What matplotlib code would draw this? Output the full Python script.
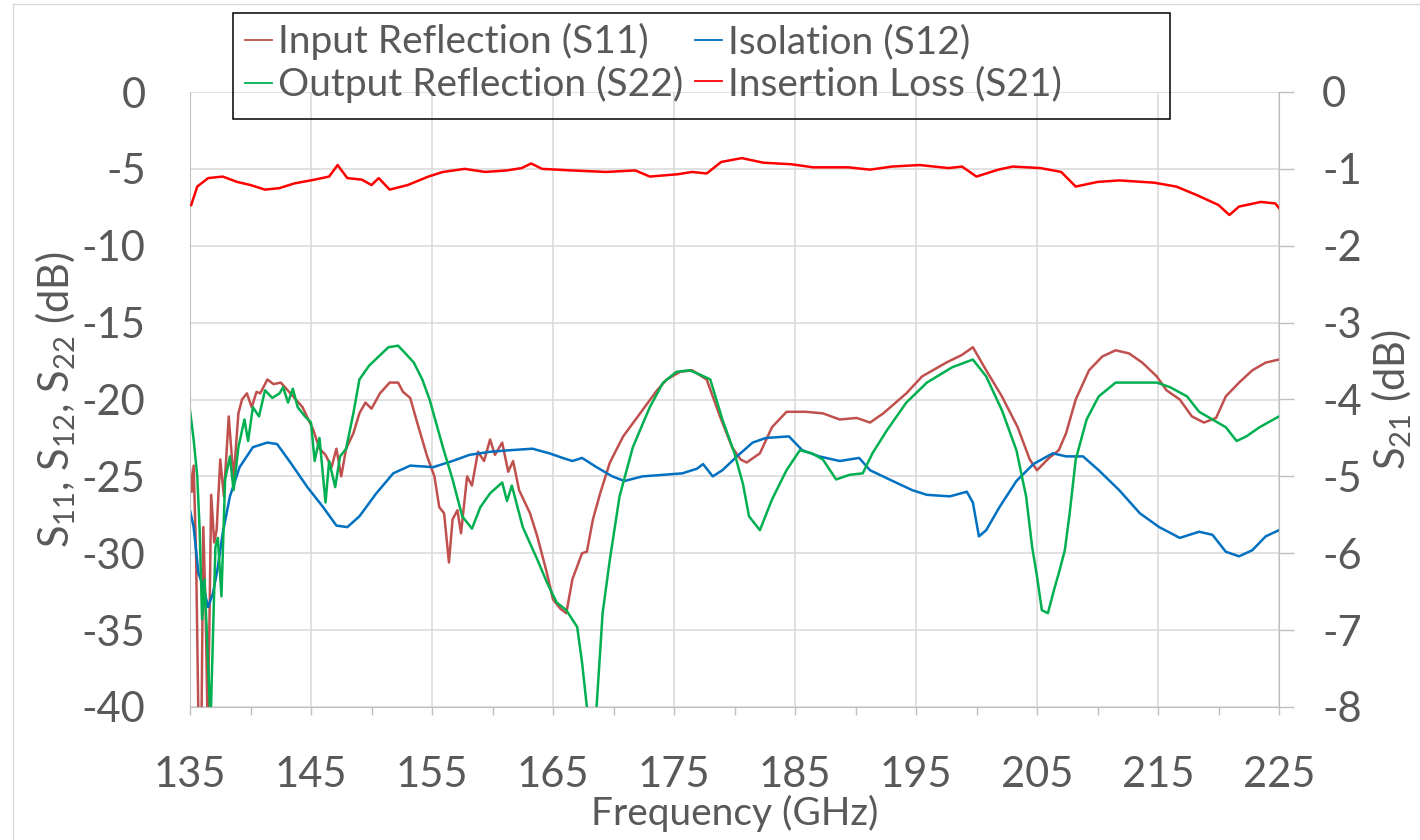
import matplotlib
matplotlib.use("Agg")
import matplotlib.pyplot as plt
from matplotlib.lines import Line2D
from matplotlib.patches import Rectangle
import numpy as np

# ------------------------------------------------------------
# Data
# ------------------------------------------------------------
s11_f = [135.0, 135.15, 135.3, 135.5, 135.7, 135.95, 136.1, 136.3, 136.45, 136.6,
         136.75, 137.0, 137.2, 137.5, 137.8, 138.2, 138.6, 139.0, 139.3, 139.7,
         140.1, 140.5, 140.8, 141.4, 141.9, 142.5, 143.3, 144.3, 145.2, 145.7,
         146.2, 146.7, 147.1, 147.5, 147.9, 148.5, 149.0, 149.5, 150.0, 150.7,
         151.5, 152.2, 152.6, 153.2, 153.7, 154.6, 155.2, 155.6, 156.0, 156.4,
         156.7, 157.1, 157.4, 157.9, 158.3, 158.8, 159.3, 159.8, 160.2, 160.8,
         161.3, 161.7, 162.2, 163.1, 163.7, 164.5, 165.0, 165.6, 166.1, 166.6,
         167.4, 167.8, 168.3, 168.9, 169.7, 170.8, 172.2, 173.6, 174.4, 175.5,
         176.5, 177.7, 178.8, 179.8, 180.5, 181.0, 182.1, 183.1, 184.3, 185.9,
         187.3, 188.7, 190.1, 191.2, 192.3, 194.2, 195.5, 197.5, 198.8, 199.7,
         200.8, 202.1, 203.4, 204.4, 205.0, 206.0, 206.8, 207.4, 208.2, 209.3,
         210.4, 211.5, 212.6, 213.7, 214.9, 215.7, 216.8, 217.8, 218.8, 219.8,
         220.6, 221.7, 222.8, 223.9, 225.0]
s11_db = [-24.5, -26.0, -24.3, -30.0, -41.0, -41.0, -28.3, -34.0, -41.0, -35.0,
          -26.2, -29.3, -28.5, -23.9, -26.3, -21.1, -25.2, -20.9, -20.0, -19.6,
          -20.5, -19.5, -19.6, -18.7, -19.0, -18.9, -19.6, -20.5, -22.0, -23.2,
          -23.6, -24.4, -23.2, -25.0, -23.2, -22.2, -20.9, -20.2, -20.6, -19.6,
          -18.9, -18.9, -19.5, -19.9, -21.3, -23.7, -25.0, -27.0, -27.4, -30.6,
          -27.8, -27.2, -28.7, -25.0, -25.6, -23.4, -24.0, -22.6, -23.6, -22.8,
          -24.7, -24.0, -25.9, -27.4, -28.9, -31.3, -33.0, -33.6, -33.9, -31.7,
          -30.0, -29.9, -27.8, -26.1, -24.1, -22.4, -20.9, -19.4, -18.7, -18.2,
          -18.1, -18.7, -21.1, -23.1, -23.9, -24.1, -23.5, -21.8, -20.8, -20.8,
          -20.9, -21.3, -21.2, -21.5, -20.9, -19.6, -18.5, -17.6, -17.1, -16.6,
          -18.1, -19.8, -21.8, -23.9, -24.6, -23.8, -23.3, -22.2, -20.0, -18.1,
          -17.2, -16.8, -17.0, -17.6, -18.5, -19.4, -20.0, -21.1, -21.5, -21.2,
          -19.8, -18.9, -18.1, -17.6, -17.4]

s22_f = [135.0, 135.3, 135.6, 135.8, 136.0, 136.2, 136.7, 137.1, 137.3, 137.6,
         137.9, 138.3, 138.6, 139.0, 139.5, 139.8, 140.2, 140.7, 141.2, 141.8,
         142.4, 142.7, 143.1, 143.5, 143.9, 144.5, 145.0, 145.3, 145.7, 146.2,
         146.5, 147.0, 147.4, 147.9, 148.5, 149.0, 149.8, 150.6, 151.4, 152.2,
         152.8, 153.5, 154.2, 154.8, 155.9, 156.7, 157.5, 158.3, 159.0, 159.8,
         160.8, 161.2, 161.6, 162.5, 163.7, 164.5, 165.3, 166.1, 167.0, 167.4,
         167.8, 168.2, 168.6, 169.1, 169.7, 170.5, 171.6, 173.0, 174.1, 175.2,
         176.3, 177.2, 178.0, 179.0, 180.0, 180.7, 181.2, 182.1, 183.1, 184.3,
         185.4, 186.4, 187.3, 188.4, 189.5, 190.6, 191.4, 192.6, 194.2, 195.9,
         198.0, 199.7, 200.8, 202.1, 203.3, 204.1, 204.6, 205.0, 205.4, 205.9,
         206.4, 206.8, 207.3, 207.7, 208.2, 209.1, 210.1, 211.5, 213.5, 214.9,
         216.0, 217.4, 218.4, 219.5, 220.6, 221.5, 222.3, 223.4, 225.0]
s22_db = [-20.7, -22.6, -25.0, -28.5, -34.3, -31.7, -41.0, -29.6, -29.0, -32.8,
          -25.2, -23.7, -25.9, -23.1, -21.3, -22.7, -20.5, -21.1, -19.4, -19.9,
          -19.6, -19.2, -20.2, -19.3, -20.5, -21.1, -21.5, -24.0, -22.5, -26.7,
          -24.0, -25.7, -23.7, -23.2, -20.9, -18.7, -17.8, -17.2, -16.6, -16.5,
          -17.0, -17.6, -18.7, -20.0, -23.1, -25.2, -27.6, -28.4, -27.0, -26.1,
          -25.4, -26.6, -25.6, -28.3, -30.4, -31.9, -33.2, -33.7, -34.8, -37.1,
          -40.0, -42.0, -40.0, -33.9, -30.4, -26.3, -23.1, -20.5, -18.9, -18.2,
          -18.1, -18.4, -18.7, -21.3, -23.5, -25.5, -27.6, -28.5, -26.5, -24.6,
          -23.3, -23.5, -23.9, -25.2, -24.9, -24.8, -23.5, -22.0, -20.2, -18.9,
          -17.9, -17.4, -18.5, -20.7, -23.3, -26.3, -29.6, -31.5, -33.7, -33.9,
          -32.4, -31.3, -29.8, -27.4, -23.9, -21.3, -19.8, -18.9, -18.9, -18.9,
          -19.2, -19.8, -20.8, -21.3, -21.8, -22.7, -22.4, -21.8, -21.1]

s12_f = [135.0, 135.3, 135.7, 136.1, 136.5, 136.9, 137.3, 137.7, 138.3, 139.1,
         140.2, 141.4, 142.2, 143.3, 144.7, 146.0, 147.1, 148.0, 149.0, 150.4,
         151.8, 153.2, 155.1, 156.7, 158.1, 159.8, 161.4, 163.3, 164.7, 165.8,
         166.6, 167.4, 168.6, 169.9, 170.9, 172.4, 174.1, 175.7, 176.9, 177.4,
         178.2, 179.0, 180.2, 181.5, 182.6, 184.5, 185.6, 187.0, 188.7, 190.3,
         191.2, 192.8, 194.7, 195.9, 197.8, 199.2, 199.7, 200.2, 200.8, 201.9,
         203.3, 204.7, 206.3, 207.4, 208.8, 210.1, 211.8, 213.5, 215.1, 216.8,
         218.4, 219.5, 220.6, 221.7, 222.8, 223.9, 225.0]
s12_db = [-27.2, -28.3, -31.3, -32.2, -33.5, -32.6, -30.9, -28.7, -26.3, -24.4,
          -23.1, -22.8, -22.9, -24.1, -25.7, -27.0, -28.2, -28.3, -27.6, -26.1,
          -24.8, -24.3, -24.4, -24.0, -23.6, -23.4, -23.3, -23.2, -23.5, -23.8,
          -24.0, -23.8, -24.4, -25.0, -25.3, -25.0, -24.9, -24.8, -24.5, -24.2,
          -25.0, -24.6, -23.7, -22.8, -22.5, -22.4, -23.3, -23.7, -24.0, -23.8,
          -24.6, -25.2, -25.9, -26.2, -26.3, -26.0, -26.7, -28.9, -28.5, -27.0,
          -25.3, -24.2, -23.5, -23.7, -23.7, -24.6, -25.9, -27.4, -28.3, -29.0,
          -28.6, -28.8, -29.9, -30.2, -29.8, -28.9, -28.5]

s21_f = [135.1, 135.6, 136.5, 137.7, 138.9, 140.0, 141.2, 142.4, 143.6, 145.3,
         146.5, 147.2, 148.0, 149.2, 150.0, 150.6, 151.5, 153.0, 154.7, 155.9,
         157.7, 159.4, 161.2, 162.4, 163.2, 164.1, 166.5, 169.4, 171.8, 173.0,
         175.3, 176.5, 177.7, 178.9, 180.6, 182.4, 184.7, 186.5, 189.4, 191.2,
         193.0, 195.3, 196.5, 197.7, 198.8, 200.0, 201.8, 203.0, 205.3, 207.0,
         208.2, 210.0, 211.8, 214.7, 216.5, 218.2, 220.0, 220.9, 221.7, 223.5,
         224.7, 225.0]
s21_db = [-1.47, -1.23, -1.12, -1.10, -1.17, -1.21, -1.27, -1.25, -1.19, -1.14,
          -1.10, -0.95, -1.12, -1.14, -1.21, -1.12, -1.27, -1.21, -1.10, -1.04,
          -1.00, -1.04, -1.02, -0.99, -0.93, -1.00, -1.02, -1.04, -1.02, -1.10,
          -1.07, -1.04, -1.06, -0.91, -0.86, -0.92, -0.94, -0.98, -0.98, -1.01,
          -0.97, -0.95, -0.97, -0.99, -0.97, -1.10, -1.01, -0.97, -0.99, -1.04,
          -1.23, -1.17, -1.15, -1.18, -1.23, -1.34, -1.47, -1.60, -1.49, -1.43,
          -1.45, -1.51]

x_ticks = [135, 145, 155, 165, 175, 185, 195, 205, 215, 225]
left_ticks = [0, -5, -10, -15, -20, -25, -30, -35, -40]
right_ticks = [0, -1, -2, -3, -4, -5, -6, -7, -8]

# ------------------------------------------------------------
# Style
# ------------------------------------------------------------
plt.rcParams["font.family"] = ["Lato", "DejaVu Sans"]
plt.rcParams["mathtext.fontset"] = "custom"
plt.rcParams["mathtext.rm"] = "Lato"
TXT = "#595959"
GRID = "#d9d9d9"
AXC = "#bfbfbf"
W, H = 1420, 840

fig = plt.figure(figsize=(14.2, 8.4), dpi=100)
ax = fig.add_axes([190 / W, 1 - 707 / H, (1279 - 190) / W, (707 - 92) / H])
ax2 = ax.twinx()

lw = 1.8
h11, = ax.plot(s11_f, s11_db, color="#C0504D", lw=lw, label="Input Reflection (S11)")
h12, = ax.plot(s12_f, s12_db, color="#0070C0", lw=lw, label="Isolation (S12)")
h22, = ax.plot(s22_f, s22_db, color="#00B050", lw=lw, label="Output Reflection (S22)")
h21, = ax2.plot(s21_f, s21_db, color="#FF0000", lw=lw, label="Insertion Loss (S21)")

ax.set_xlim(135, 225)
ax.set_ylim(-40, 0)
ax2.set_ylim(-8, 0)

ax.set_xticks(x_ticks)
ax.set_xticks(np.arange(140, 225, 10), minor=True)
ax.set_yticks(left_ticks)
ax2.set_yticks(right_ticks)
ax.grid(True, which="major", color=GRID, lw=1.1)
ax.set_axisbelow(True)

for a in (ax, ax2):
    for s in a.spines.values():
        s.set_visible(False)
ax.spines["left"].set_visible(True)
ax.spines["left"].set_color(AXC)
ax.spines["bottom"].set_visible(True)
ax.spines["bottom"].set_color(AXC)
ax2.spines["right"].set_visible(True)
ax2.spines["right"].set_color(AXC)

ax.tick_params(axis="x", which="both", length=6, width=1, color=AXC,
               labelsize=30, labelcolor=TXT, pad=29)
ax.tick_params(axis="y", length=0, labelsize=30, labelcolor=TXT, pad=32)
ax2.tick_params(axis="y", length=11, width=1, color=AXC,
                labelsize=30, labelcolor=TXT, pad=20)
ax.set_yticklabels([str(v) for v in left_ticks])
ax2.set_yticklabels([str(v) for v in right_ticks])

ax.set_xlabel("Frequency (GHz)", fontsize=28, color=TXT, labelpad=1)
ax.set_ylabel(r"S$\mathregular{_{11}}$, S$\mathregular{_{12}}$, S$\mathregular{_{22}}$ (dB)",
              fontsize=30, color=TXT, labelpad=3)
ax2.set_ylabel(r"S$\mathregular{_{21}}$ (dB)", fontsize=30, color=TXT, labelpad=6)

# legend: frameless, with its own box drawn around it
leg = fig.legend(handles=[h11, h22, h12, h21], ncol=2,
                 loc="upper left", bbox_to_anchor=(245 / W, 1 - 23 / H),
                 fontsize=28, frameon=False, borderaxespad=0, borderpad=0,
                 handlelength=0.7, handletextpad=0.15, columnspacing=0.3,
                 labelspacing=0.15, labelcolor=TXT)
for ln in leg.get_lines():
    ln.set_linewidth(1.3)
fig.add_artist(Rectangle((233 / W, 1 - 119 / H), (1170 - 233) / W, (119 - 13) / H,
                         transform=fig.transFigure, fill=False,
                         edgecolor="black", lw=1.1))

# faint chart-area border
fig.add_artist(Line2D([13 / W, 1], [1 - 4 / H, 1 - 4 / H], color=GRID, lw=1))
fig.add_artist(Line2D([13 / W, 13 / W], [0, 1 - 4 / H], color=GRID, lw=1))

fig.savefig("out.png", dpi=100)
